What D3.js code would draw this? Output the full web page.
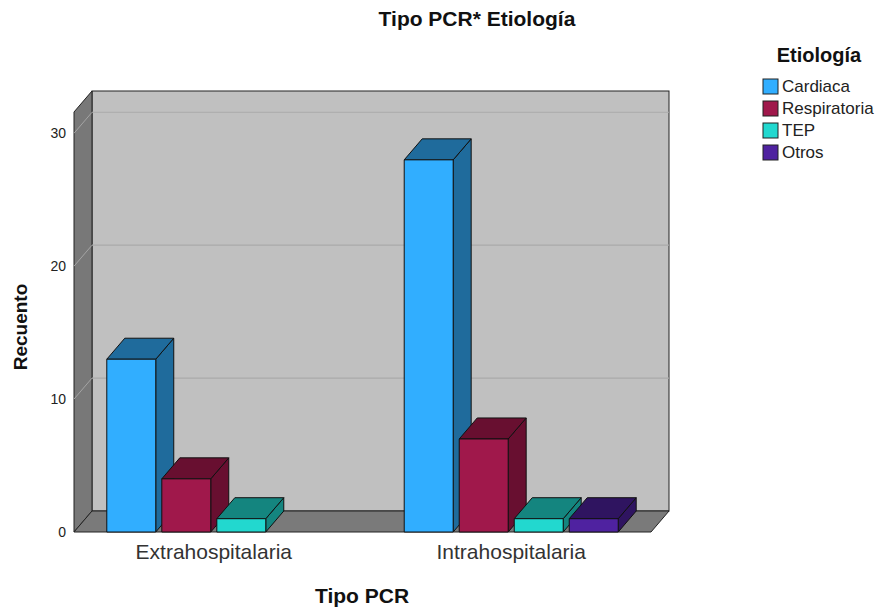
<!DOCTYPE html>
<html>
<head>
<meta charset="utf-8">
<script src="https://cdn.jsdelivr.net/npm/d3@7"></script>
<style>
  body { margin: 0; background: #fff; }
  text { font-family: "Liberation Sans", Arial, sans-serif; }
</style>
</head>
<body>
<svg id="chart" width="878" height="610"></svg>
<script>
// Counts of cardiac arrest type by aetiology
const groups = ["Extrahospitalaria", "Intrahospitalaria"];
const series = ["Cardiaca", "Respiratoria", "TEP", "Otros"];
const cardiaca = [13, 28];
const respiratoria = [4, 7];
const tep = [1, 1];
const otros = [0, 1];
const yTicks = [0, 10, 20, 30];

// Face colours per series: front face and the shaded top/side faces
const frontColors = ["#31aeff", "#a0184b", "#22d8cf", "#4f22a0"];
const shadeColors = ["#1f6b9c", "#680f30", "#14857f", "#2f1460"];

const values = [cardiaca, respiratoria, tep, otros];

const svg = d3.select("#chart");

// 3D depth offset of the plot box
const DX = 18, DY = -21;
const left = 74, right = 651, floorY = 532;

const y = d3.scaleLinear().domain([0, 31.6]).range([floorY, 112]);
const x0 = d3.scalePoint().domain(groups).range([left, right]).padding(0.47);
const x1 = d3.scaleBand().domain(series).range([-107, 107]).paddingInner(0.11).paddingOuter(0);

const yTop = y.range()[1];

// Back wall
svg.append("rect")
  .attr("x", left + DX).attr("y", yTop + DY)
  .attr("width", right - left).attr("height", floorY - yTop)
  .attr("fill", "#c0c0c0").attr("stroke", "#222").attr("stroke-width", 1);

// Left wall
svg.append("polygon")
  .attr("points", [[left, floorY], [left, yTop], [left + DX, yTop + DY], [left + DX, floorY + DY]].join(" "))
  .attr("fill", "#787878").attr("stroke", "#222").attr("stroke-width", 1);

// Gridlines on back and left walls
const grid = svg.append("g");
yTicks.filter(t => t > 0).forEach(t => {
  grid.append("line")
    .attr("x1", left + DX).attr("x2", right + DX)
    .attr("y1", y(t) + DY).attr("y2", y(t) + DY)
    .attr("stroke", "#aaaaaa").attr("stroke-width", 1.2);
  grid.append("line")
    .attr("x1", left).attr("x2", left + DX)
    .attr("y1", y(t)).attr("y2", y(t) + DY)
    .attr("stroke", "#a4a4a4").attr("stroke-width", 1);
});

// Floor
svg.append("polygon")
  .attr("points", [[left, floorY], [left + DX, floorY + DY], [right + DX, floorY + DY], [right, floorY]].join(" "))
  .attr("fill", "#7a7a7a").attr("stroke", "#222").attr("stroke-width", 1);

// Bars, drawn left to right so each front face covers the previous side face
const bars = svg.append("g");
groups.forEach((g, gi) => {
  series.forEach((s, si) => {
    const v = values[si][gi];
    if (!v) return;
    const xa = x0(g) + x1(s);
    const w = x1.bandwidth();
    const yt = y(v), yb = y(0);
    const b = bars.append("g").attr("stroke", "#111").attr("stroke-width", 1).attr("stroke-linejoin", "round");
    // side face
    b.append("polygon")
      .attr("points", [[xa + w, yt], [xa + w + DX, yt + DY], [xa + w + DX, yb + DY], [xa + w, yb]].join(" "))
      .attr("fill", shadeColors[si]);
    // top face
    b.append("polygon")
      .attr("points", [[xa, yt], [xa + DX, yt + DY], [xa + w + DX, yt + DY], [xa + w, yt]].join(" "))
      .attr("fill", shadeColors[si]);
    // front face
    b.append("rect")
      .attr("x", xa).attr("y", yt).attr("width", w).attr("height", yb - yt)
      .attr("fill", frontColors[si]);
  });
});

// Y axis tick labels
svg.append("g").selectAll("text").data(yTicks).join("text")
  .attr("x", 66).attr("y", d => y(d))
  .attr("dy", "0.35em")
  .attr("text-anchor", "end")
  .attr("font-size", 14).attr("fill", "#222")
  .text(d => d);

// Category labels
svg.append("g").selectAll("text").data(groups).join("text")
  .attr("x", d => x0(d)).attr("y", 559)
  .attr("text-anchor", "middle")
  .attr("font-size", 21).attr("fill", "#333")
  .text(d => d);

// Titles
svg.append("text")
  .attr("x", 477).attr("y", 26)
  .attr("text-anchor", "middle").attr("font-weight", "bold").attr("font-size", 21).attr("fill", "#111")
  .text("Tipo PCR* Etiología");

svg.append("text")
  .attr("x", 362).attr("y", 603)
  .attr("text-anchor", "middle").attr("font-weight", "bold").attr("font-size", 21).attr("fill", "#111")
  .text("Tipo PCR");

svg.append("text")
  .attr("transform", "translate(27,327) rotate(-90)")
  .attr("text-anchor", "middle").attr("font-weight", "bold").attr("font-size", 19).attr("fill", "#111")
  .text("Recuento");

// Legend
const legend = svg.append("g");
legend.append("text")
  .attr("x", 819).attr("y", 62)
  .attr("text-anchor", "middle").attr("font-weight", "bold").attr("font-size", 20).attr("fill", "#111")
  .text("Etiología");
series.forEach((s, i) => {
  const ly = 79 + i * 22;
  legend.append("rect")
    .attr("x", 763).attr("y", ly).attr("width", 15).attr("height", 15)
    .attr("fill", frontColors[i]).attr("stroke", "#222").attr("stroke-width", 1);
  legend.append("text")
    .attr("x", 782).attr("y", ly + 13)
    .attr("font-size", 17).attr("fill", "#222")
    .text(s);
});
</script>
</body>
</html>
